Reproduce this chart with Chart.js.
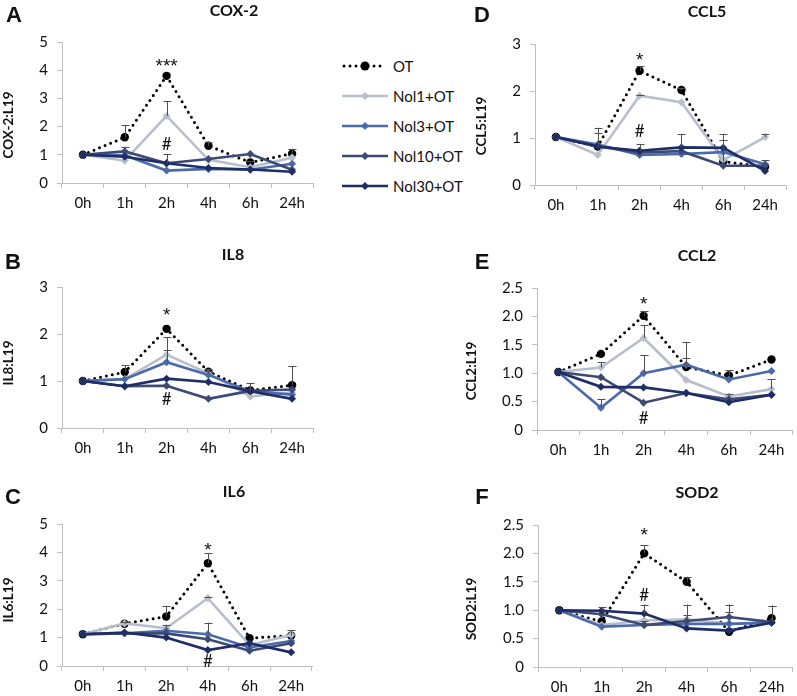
<!DOCTYPE html>
<html>
<head>
<meta charset="utf-8">
<script src="https://cdn.jsdelivr.net/npm/chart.js@4.4.1/dist/chart.umd.min.js"></script>
<style>
  html, body { margin: 0; padding: 0; background: #fff; }
  #page { position: relative; width: 797px; height: 696px; overflow: hidden; background: #fff; font-family: Lato, "Open Sans", sans-serif; color: #111; }
  .box { position: absolute; }
  .letter { position: absolute; font-family: "Liberation Sans", Arial, sans-serif; font-weight: bold; font-size: 22px; transform: translate(-50%, -50%); line-height: 1; }
  .title { position: absolute; font-weight: bold; font-size: 16px; transform: translate(-50%, -50%); white-space: nowrap; line-height: 1; }
  .ytitle { position: absolute; font-weight: bold; font-size: 13.5px; transform: translate(-50%, -50%) rotate(-90deg); white-space: nowrap; line-height: 1; }
  .leg { position: absolute; left: 342px; height: 20px; display: flex; align-items: center; transform: translateY(-50%); }
  .leg span { font-size: 15px; margin-left: 5px; white-space: nowrap; }
</style>
</head>
<body>
<div id="page"></div>
<script>
// ---------------- data ----------------
const categories = ['0h', '1h', '2h', '4h', '6h', '24h'];
const seriesNames = ['OT', 'Nol1+OT', 'Nol3+OT', 'Nol10+OT', 'Nol30+OT'];

// COX-2 (panel A)
const cox2Ticks = [0, 1, 2, 3, 4, 5];
const cox2Values = [
  [1.00, 1.62, 3.80, 1.32, 0.73, 1.04],
  [1.00, 0.79, 2.38, 0.82, 0.56, 0.90],
  [1.00, 0.98, 0.44, 0.50, 0.47, 0.68],
  [1.00, 1.12, 0.70, 0.85, 1.03, 0.47],
  [1.00, 0.93, 0.70, 0.53, 0.48, 0.40]
];
const cox2Errors = [
  [0, 0.44, 0, 0.15, 0.05, 0.18],
  [0, 0, 0.53, 0, 0, 0],
  [0, 0, 0, 0, 0, 0],
  [0, 0.17, 0.32, 0, 0, 0],
  [0, 0, 0, 0, 0, 0]
];
const cox2Notes = [['***', 2, 4.22], ['#', 2, 1.36]];

// IL8 (panel B)
const il8Ticks = [0, 1, 2, 3];
const il8Values = [
  [1.00, 1.19, 2.11, 1.20, 0.80, 0.91],
  [1.00, 1.04, 1.56, 1.16, 0.67, 0.76],
  [1.00, 1.04, 1.40, 1.13, 0.78, 0.71],
  [1.00, 0.89, 0.90, 0.62, 0.79, 0.82],
  [1.00, 0.89, 1.05, 0.98, 0.78, 0.62]
];
const il8Errors = [
  [0, 0.14, 0, 0.06, 0.16, 0.40],
  [0, 0, 0.37, 0.06, 0, 0],
  [0, 0, 0.27, 0, 0, 0],
  [0, 0, 0, 0, 0, 0],
  [0, 0, 0, 0, 0, 0]
];
const il8Notes = [['*', 2, 2.45], ['#', 2, 0.60]];

// IL6 (panel C)
const il6Ticks = [0, 1, 2, 3, 4, 5];
const il6Values = [
  [1.12, 1.49, 1.74, 3.62, 0.98, 1.07],
  [1.12, 1.50, 1.33, 2.39, 0.74, 1.09],
  [1.12, 1.15, 1.24, 1.12, 0.65, 0.88],
  [1.12, 1.15, 1.15, 0.94, 0.54, 0.80],
  [1.12, 1.18, 1.00, 0.56, 0.80, 0.48]
];
const il6Errors = [
  [0, 0.05, 0.36, 0.36, 0, 0.20],
  [0, 0.05, 0.12, 0.05, 0, 0],
  [0, 0, 0, 0.41, 0, 0],
  [0, 0, 0, 0, 0, 0],
  [0, 0, 0, 0, 0, 0]
];
const il6Notes = [['*', 3, 4.15], ['#', 3, 0.15]];

// CCL5 (panel D)
const ccl5Ticks = [0, 1, 2, 3];
const ccl5Values = [
  [1.02, 0.82, 2.43, 2.02, 0.50, 0.39],
  [1.02, 0.64, 1.90, 1.76, 0.53, 1.02],
  [1.02, 0.86, 0.64, 0.66, 0.70, 0.44],
  [1.02, 0.82, 0.69, 0.72, 0.41, 0.41],
  [1.02, 0.82, 0.73, 0.80, 0.79, 0.30]
];
const ccl5Errors = [
  [0, 0.40, 0.10, 0.05, 0.46, 0],
  [0, 0, 0.02, 0, 0, 0.07],
  [0, 0.25, 0, 0, 0, 0.09],
  [0, 0, 0, 0, 0, 0],
  [0, 0, 0.14, 0.29, 0.30, 0]
];
const ccl5Notes = [['*', 2, 2.70], ['#', 2, 1.13]];

// CCL2 (panel E)
const ccl2Ticks = [0, 0.5, 1, 1.5, 2, 2.5];
const ccl2Values = [
  [1.02, 1.34, 2.01, 1.11, 0.96, 1.24],
  [1.02, 1.10, 1.62, 0.88, 0.59, 0.72],
  [1.02, 0.39, 1.00, 1.15, 0.89, 1.04],
  [1.02, 0.93, 0.48, 0.65, 0.54, 0.62],
  [1.02, 0.76, 0.75, 0.65, 0.49, 0.62]
];
const ccl2Errors = [
  [0, 0, 0.08, 0.15, 0.09, 0],
  [0, 0.09, 0.23, 0, 0.05, 0.17],
  [0, 0.15, 0.32, 0.40, 0, 0],
  [0, 0, 0, 0, 0, 0],
  [0, 0, 0, 0, 0, 0]
];
const ccl2Notes = [['*', 2, 2.25], ['#', 2, 0.21]];

// SOD2 (panel F)
const sod2Ticks = [0, 0.5, 1, 1.5, 2, 2.5];
const sod2Values = [
  [1.00, 0.80, 2.00, 1.50, 0.62, 0.86],
  [1.00, 0.74, 0.82, 0.84, 0.76, 0.79],
  [1.00, 0.71, 0.74, 0.76, 0.76, 0.78],
  [1.00, 0.93, 0.74, 0.81, 0.88, 0.79],
  [1.00, 0.99, 0.94, 0.68, 0.64, 0.78]
];
const sod2Errors = [
  [0, 0, 0.14, 0.09, 0, 0.22],
  [0, 0, 0, 0.07, 0.20, 0],
  [0, 0, 0, 0, 0, 0],
  [0, 0, 0.07, 0.29, 0.22, 0.29],
  [0, 0.07, 0.16, 0, 0, 0]
];
const sod2Notes = [['*', 2, 2.36], ['#', 2, 1.25]];

// ---------------- styling ----------------
const seriesColors = ['#000000', '#b8bfcc', '#4b6aab', '#3c4a74', '#1f2d66'];
const axisColor = '#bfbfbf';
const FONT = 'Lato, "Open Sans", sans-serif';

const errorBarPlugin = {
  id: 'errorBars',
  afterDatasetsDraw(chart) {
    const ctx = chart.ctx;
    const ys = chart.scales.y;
    ctx.save();
    ctx.strokeStyle = '#505050';
    ctx.lineWidth = 1;
    chart.data.datasets.forEach((ds, di) => {
      const meta = chart.getDatasetMeta(di);
      (ds.errors || []).forEach((e, i) => {
        if (!e) return;
        const pt = meta.data[i];
        const yTop = ys.getPixelForValue(ds.data[i] + e);
        const x = Math.round(pt.x) + 0.5;
        ctx.beginPath();
        ctx.moveTo(x, pt.y);
        ctx.lineTo(x, yTop);
        ctx.moveTo(x - 4, Math.round(yTop) + 0.5);
        ctx.lineTo(x + 4, Math.round(yTop) + 0.5);
        ctx.stroke();
      });
    });
    ctx.restore();
  }
};

const notesPlugin = {
  id: 'notes',
  afterDraw(chart, args, opts) {
    const ctx = chart.ctx;
    const xs = chart.scales.x, ys = chart.scales.y;
    ctx.save();
    ctx.fillStyle = '#111';
    ctx.textAlign = 'center';
    ctx.textBaseline = 'middle';
    (opts.items || []).forEach(([txt, idx, val]) => {
      if (txt === '#') {
        ctx.font = '17px ' + FONT;
        ctx.fillText(txt, xs.getPixelForValue(idx), ys.getPixelForValue(val));
      } else {
        ctx.font = '19px "Liberation Sans", Arial, sans-serif';
        ctx.fillText(txt, xs.getPixelForValue(idx), ys.getPixelForValue(val) + 3);
      }
    });
    ctx.restore();
  }
};

const page = document.getElementById('page');

function makeChart(box, values, errors, ticks, notes) {
  const wrap = document.createElement('div');
  wrap.className = 'box';
  wrap.style.left = box.L + 'px';
  wrap.style.top = box.T + 'px';
  wrap.style.width = box.W + 'px';
  wrap.style.height = box.H + 'px';
  const cv = document.createElement('canvas');
  cv.width = box.W; cv.height = box.H;
  cv.style.width = box.W + 'px'; cv.style.height = box.H + 'px';
  wrap.appendChild(cv);
  page.appendChild(wrap);

  const datasets = values.map((vals, si) => {
    const base = {
      label: seriesNames[si],
      data: vals,
      errors: errors[si],
      borderColor: seriesColors[si],
      backgroundColor: seriesColors[si],
      pointBackgroundColor: seriesColors[si],
      pointBorderWidth: 0,
      tension: 0,
      order: 5 - si
    };
    if (si === 0) {
      Object.assign(base, {
        borderWidth: 3,
        borderDash: [0, 6],
        borderCapStyle: 'round',
        pointStyle: 'circle',
        pointRadius: 4.2
      });
    } else {
      Object.assign(base, {
        borderWidth: 2.6,
        pointStyle: 'rectRot',
        pointRadius: 4
      });
    }
    return base;
  });

  return new Chart(cv, {
    type: 'line',
    data: { labels: categories, datasets },
    options: {
      responsive: false,
      animation: false,
      devicePixelRatio: 1,
      layout: { padding: { left: 0, top: box.pt, right: box.pr, bottom: 0 } },
      plugins: { legend: { display: false }, tooltip: { enabled: false }, title: { display: false }, notes: { items: notes } },
      scales: {
        x: {
          type: 'category',
          offset: true,
          grid: { display: true, drawOnChartArea: false, drawTicks: true, tickLength: 5, offset: true, color: axisColor },
          border: { display: true, color: axisColor, width: 1 },
          ticks: { font: { family: FONT, size: 15 }, color: '#111', padding: 6, maxRotation: 0, autoSkip: false },
          afterFit: (s) => { s.height = box.xh; }
        },
        y: {
          min: ticks[0],
          max: ticks[ticks.length - 1],
          grid: { display: true, drawOnChartArea: false, drawTicks: true, tickLength: 5, color: axisColor },
          border: { display: true, color: axisColor, width: 1 },
          ticks: { stepSize: ticks[1] - ticks[0], font: { family: FONT, size: 15 }, color: '#111', padding: 9 },
          afterFit: (s) => { s.width = box.yw; }
        }
      }
    },
    plugins: [errorBarPlugin, notesPlugin]
  });
}

// layout boxes (canvas position + plot area offsets)
const boxA = { L: 0,   T: 0,   W: 330, H: 225, pt: 42, pr: 17, yw: 62, xh: 42 };
const boxB = { L: 0,   T: 230, W: 330, H: 230, pt: 57, pr: 17, yw: 62, xh: 32 };
const boxC = { L: 0,   T: 460, W: 330, H: 236, pt: 64, pr: 18, yw: 62, xh: 30 };
const boxD = { L: 472, T: 0,   W: 325, H: 225, pt: 44, pr: 11, yw: 63, xh: 40 };
const boxE = { L: 463, T: 230, W: 334, H: 230, pt: 58, pr: 2,  yw: 74, xh: 30 };
const boxF = { L: 463, T: 460, W: 334, H: 236, pt: 65, pr: 2,  yw: 75, xh: 29 };

function addText(cls, txt, x, y) {
  const d = document.createElement('div');
  d.className = cls;
  d.textContent = txt;
  d.style.left = x + 'px';
  d.style.top = y + 'px';
  page.appendChild(d);
}

makeChart(boxA, cox2Values, cox2Errors, cox2Ticks, cox2Notes);
makeChart(boxB, il8Values, il8Errors, il8Ticks, il8Notes);
makeChart(boxC, il6Values, il6Errors, il6Ticks, il6Notes);
makeChart(boxD, ccl5Values, ccl5Errors, ccl5Ticks, ccl5Notes);
makeChart(boxE, ccl2Values, ccl2Errors, ccl2Ticks, ccl2Notes);
makeChart(boxF, sod2Values, sod2Errors, sod2Ticks, sod2Notes);

// panel letters, titles, axis titles
addText('letter', 'A', 14, 15);
addText('letter', 'B', 13, 262);
addText('letter', 'C', 13, 497);
addText('letter', 'D', 482, 15);
addText('letter', 'E', 482, 262);
addText('letter', 'F', 482, 497);

addText('title', 'COX-2', 234, 10);
addText('title', 'IL8', 233, 254);
addText('title', 'IL6', 234, 491);
addText('title', 'CCL5', 707, 11);
addText('title', 'CCL2', 697, 255);
addText('title', 'SOD2', 697, 492);

addText('ytitle', 'COX-2:L19', 9, 125);
addText('ytitle', 'IL8:L19', 9, 363);
addText('ytitle', 'IL6:L19', 9, 600);
addText('ytitle', 'CCL5:L19', 482, 126);
addText('ytitle', 'CCL2:L19', 472, 371);
addText('ytitle', 'SOD2:L19', 472, 609);

// legend (HTML)
const legendY = [66, 96, 126, 156, 186];
seriesNames.forEach((name, si) => {
  const row = document.createElement('div');
  row.className = 'leg';
  row.style.top = legendY[si] + 'px';
  const svgNS = 'http://www.w3.org/2000/svg';
  const svg = document.createElementNS(svgNS, 'svg');
  svg.setAttribute('width', '46'); svg.setAttribute('height', '12');
  const ln = document.createElementNS(svgNS, 'line');
  ln.setAttribute('x1', si === 0 ? '2' : '0'); ln.setAttribute('x2', si === 0 ? '44' : '46');
  ln.setAttribute('y1', '6'); ln.setAttribute('y2', '6');
  ln.setAttribute('stroke', seriesColors[si]);
  if (si === 0) {
    ln.setAttribute('stroke-width', '3');
    ln.setAttribute('stroke-dasharray', '0 6');
    ln.setAttribute('stroke-linecap', 'round');
  } else {
    ln.setAttribute('stroke-width', '2.6');
  }
  svg.appendChild(ln);
  if (si === 0) {
    const c = document.createElementNS(svgNS, 'circle');
    c.setAttribute('cx', '23'); c.setAttribute('cy', '6'); c.setAttribute('r', '4.5');
    c.setAttribute('fill', '#000');
    svg.appendChild(c);
  } else {
    const p = document.createElementNS(svgNS, 'polygon');
    p.setAttribute('points', '23,2 27,6 23,10 19,6');
    p.setAttribute('fill', seriesColors[si]);
    svg.appendChild(p);
  }
  row.appendChild(svg);
  const sp = document.createElement('span');
  sp.textContent = name;
  row.appendChild(sp);
  page.appendChild(row);
});
</script>
</body>
</html>
